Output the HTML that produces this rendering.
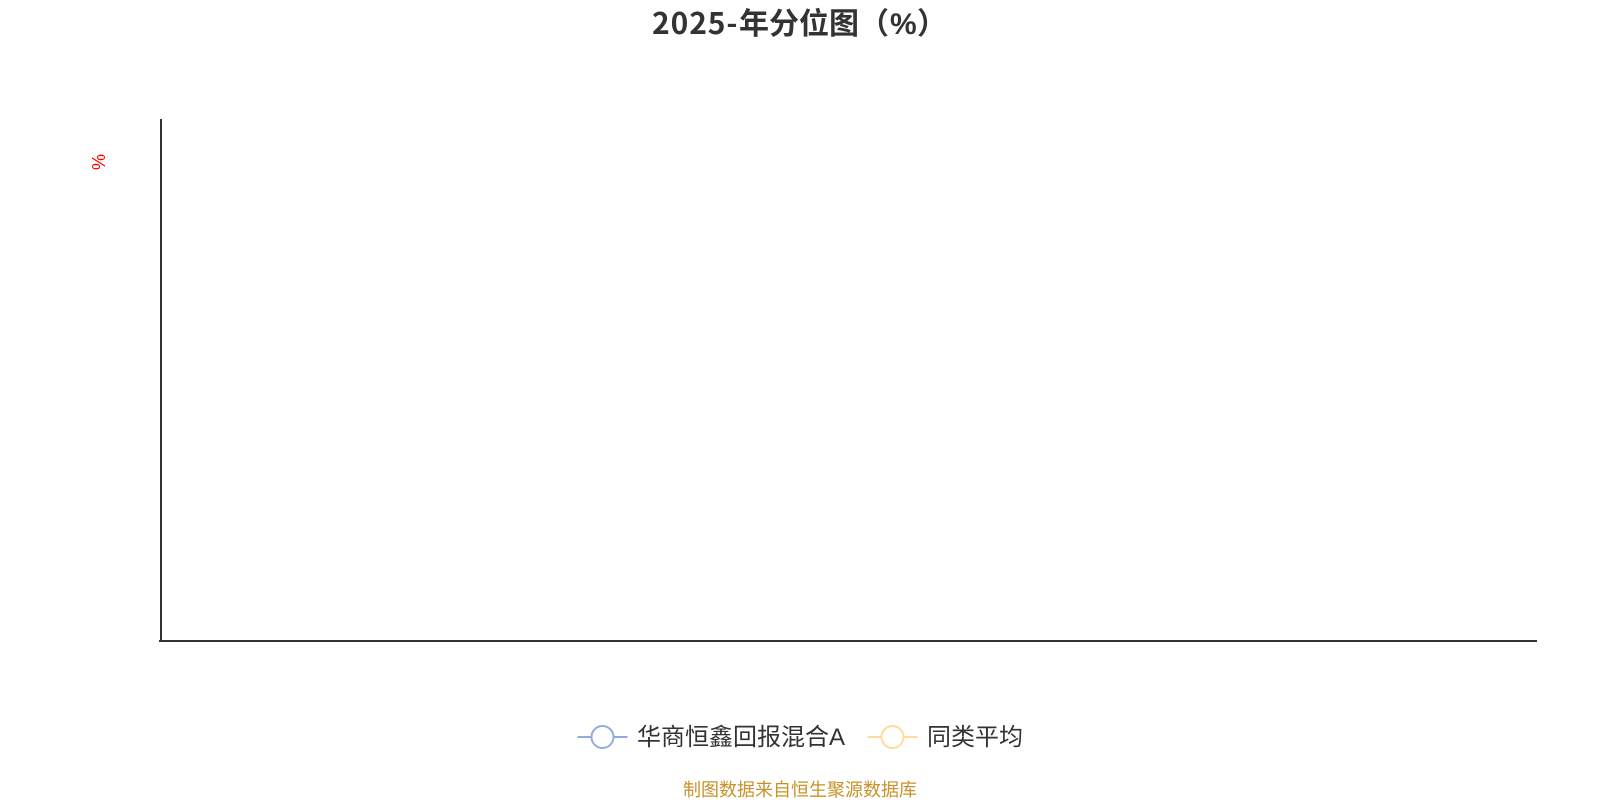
<!DOCTYPE html>
<html>
<head>
<meta charset="utf-8">
<style>
html,body{margin:0;padding:0;background:#fff;width:1600px;height:800px;overflow:hidden}
svg{display:block}
text{font-family:"Noto Sans CJK SC","Liberation Sans",sans-serif}
</style>
</head>
<body>
<svg width="1600" height="800" viewBox="0 0 1600 800" xmlns="http://www.w3.org/2000/svg">
<rect width="1600" height="800" fill="#fff"/>
<text y="34" font-size="30" font-weight="700" fill="#333"><tspan x="652" letter-spacing="0.9">2025-</tspan><tspan x="739">年分位图</tspan><tspan x="859">（</tspan><tspan x="890" style="font-family:'Liberation Sans',sans-serif">%</tspan><tspan x="917">）</tspan></text>
<line x1="161" y1="119" x2="161" y2="642" stroke="#333" stroke-width="2"/>
<line x1="159" y1="641" x2="1537" y2="641" stroke="#333" stroke-width="2"/>
<text x="0" y="0" font-size="18" fill="#f00" text-anchor="middle" style="font-family:'Liberation Sans',sans-serif" transform="translate(92,162) rotate(90)">%</text>
<line x1="577.5" y1="737" x2="627.5" y2="737" stroke="#91acdc" stroke-width="2"/>
<circle cx="602.5" cy="737" r="11" fill="#fff" stroke="#91acdc" stroke-width="2"/>
<text x="637" y="745" font-size="24" fill="#333">华商恒鑫回报混合<tspan style="font-family:'Liberation Sans',sans-serif">A</tspan></text>
<line x1="867.5" y1="737" x2="917.5" y2="737" stroke="#ffdb9c" stroke-width="2"/>
<circle cx="892.5" cy="737" r="11" fill="#fff" stroke="#ffdb9c" stroke-width="2"/>
<text x="927" y="745" font-size="24" fill="#333">同类平均</text>
<text x="683" y="796" font-size="18" fill="#c8922a">制图数据来自恒生聚源数据库</text>
</svg>
</body>
</html>
